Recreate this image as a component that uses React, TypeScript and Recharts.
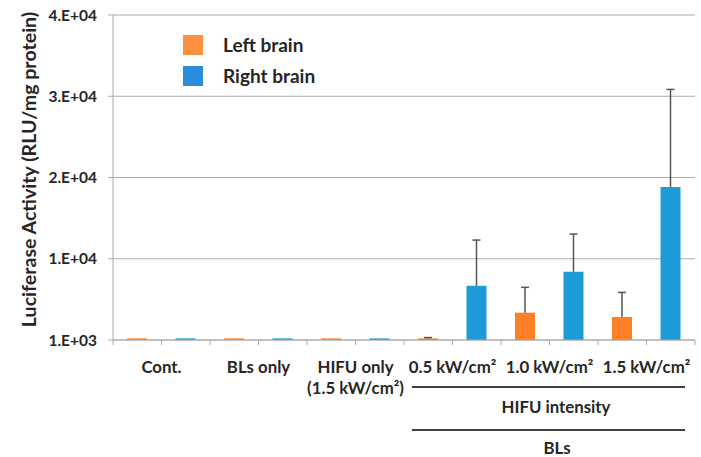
import React from "react";
import { BarChart, Bar, XAxis, YAxis, CartesianGrid, Cell, Legend } from "recharts";

// ---- data ----
const groups = ["Cont.", "BLs only", "HIFU only\n(1.5 kW/cm²)", "0.5 kW/cm²", "1.0 kW/cm²", "1.5 kW/cm²"];
const leftBrain = [200, 200, 200, 200, 3360, 2830];
const leftErr = [0, 0, 0, 100, 3120, 3030];
const rightBrain = [200, 200, 200, 6680, 8400, 18820];
const rightErr = [0, 0, 0, 5620, 4640, 12020];
const seriesNames = ["Left brain", "Right brain"];
const yTicks = [0, 10000, 20000, 30000, 40000];
const yTickLabels = ["1.E+03", "1.E+04", "2.E+04", "3.E+04", "4.E+04"];
const bracketLabels = ["HIFU intensity", "BLs"];
const yAxisTitle = "Luciferase Activity (RLU/mg protein)";

// ---- styling ----
const FONT = "Lato, 'Liberation Sans', sans-serif";
const TEXT = "#262626";
const GRID = "#ABABAB";
const ORANGE = "#FF7F27";
const BLUE = "#1E9BD7";
const ERR = "#555555";
const SLOT = 582 / 12;
const XFS = 16.8;

const slots: any[] = [];
groups.forEach((g, i) => {
  slots.push({ slot: `${i}L`, group: g, value: leftBrain[i], err: leftErr[i], side: 0 });
  slots.push({ slot: `${i}R`, group: g, value: rightBrain[i], err: rightErr[i], side: 1 });
});

const ErrShape = (p: any) => {
  const { x, y, width, height } = p;
  if (!height || height <= 0) return <g />;
  const cx = x + width / 2;
  return (
    <g>
      <line x1={cx} x2={cx} y1={y + height} y2={y} stroke={ERR} strokeWidth={1.5} />
      <line x1={cx - 4} x2={cx + 4} y1={y} y2={y} stroke={ERR} strokeWidth={1.5} />
    </g>
  );
};

const XTick = (p: any) => {
  const { x, y, index } = p;
  const left = x - SLOT / 2;
  const els: any[] = [];
  els.push(<line key="t" x1={left} x2={left} y1={y} y2={y + 5} stroke={GRID} strokeWidth={1} />);
  if (index === slots.length - 1) {
    els.push(<line key="t2" x1={x + SLOT / 2} x2={x + SLOT / 2} y1={y} y2={y + 5} stroke={GRID} strokeWidth={1} />);
  }
  if (index % 2 === 1) {
    const lines = String(slots[index].group).split("\n");
    lines.forEach((ln, k) => {
      els.push(
        <text key={"l" + k} x={left} y={y + 33 + k * 21} textAnchor="middle" fill={TEXT}
          fontFamily={FONT} fontWeight={700} fontSize={XFS}>{ln}</text>
      );
    });
  }
  if (index === 6) {
    const x0 = left + 8;
    const x1 = left + 6 * SLOT - 10;
    els.push(<line key="b1" x1={x0} x2={x1} y1={y + 47} y2={y + 47} stroke="#000" strokeWidth={1.3} />);
    els.push(<line key="b2" x1={x0} x2={x1} y1={y + 90} y2={y + 90} stroke="#000" strokeWidth={1.3} />);
    els.push(<text key="h" x={left + 152} y={y + 73} textAnchor="middle" fill={TEXT}
      fontFamily={FONT} fontWeight={700} fontSize={XFS}>{bracketLabels[0]}</text>);
    els.push(<text key="bl" x={left + 153} y={y + 114} textAnchor="middle" fill={TEXT}
      fontFamily={FONT} fontWeight={700} fontSize={XFS}>{bracketLabels[1]}</text>);
  }
  return <g>{els}</g>;
};

const LegendContent = () => (
  <div style={{ fontFamily: FONT, fontWeight: 700, fontSize: 19, color: TEXT }}>
    {seriesNames.map((n, i) => (
      <div key={n} style={{ display: "flex", alignItems: "center", height: 31 }}>
        <div style={{ width: 20, height: 20, background: i === 0 ? "#FF9040" : "#2A8CDC", marginRight: 20 }} />
        <span>{n}</span>
      </div>
    ))}
  </div>
);

const YTitle = (p: any) => {
  const vb = p.viewBox || { x: 53, y: 15, height: 325 };
  const cx = vb.x - 25;
  const cy = vb.y + vb.height / 2 - 8;
  return (
    <text x={cx} y={cy} transform={`rotate(-90 ${cx} ${cy})`} textAnchor="middle" dominantBaseline="central"
      fill={TEXT} fontFamily={FONT} fontWeight={700} fontSize={19.6}>{yAxisTitle}</text>
  );
};

export default function App() {
  return (
    <div style={{ position: "absolute", left: 0, top: 0, background: "#fff" }}>
      <BarChart width={701} height={457} data={slots} margin={{ top: 15, right: 6, left: 53, bottom: 0 }}
        barSize={20} barCategoryGap={0}>
        <CartesianGrid horizontal={true} vertical={false} stroke={GRID} strokeWidth={1} />
        <XAxis dataKey="slot" interval={0} height={117} tickLine={false} tickSize={0} tickMargin={0}
          axisLine={{ stroke: GRID }} tick={<XTick />} />
        <YAxis domain={[0, 40000]} ticks={yTicks} width={60} tickSize={5} tickMargin={11}
          axisLine={{ stroke: GRID }} tickLine={{ stroke: GRID }}
          tick={{ fill: TEXT, fontSize: 15.5, fontWeight: 700, fontFamily: FONT }}
          tickFormatter={(v: number) => yTickLabels[yTicks.indexOf(v)]}
          label={{ content: <YTitle /> }} />
        <Legend layout="vertical" align="center" verticalAlign="middle" content={<LegendContent />}
          wrapperStyle={{ left: 183, top: 29, width: 200 }} />
        <Bar dataKey="value" stackId="a" isAnimationActive={false}>
          {slots.map((s, i) => (
            <Cell key={i} fill={s.side === 0 ? ORANGE : BLUE} />
          ))}
        </Bar>
        <Bar dataKey="err" stackId="a" isAnimationActive={false} shape={<ErrShape />} />
      </BarChart>
    </div>
  );
}
